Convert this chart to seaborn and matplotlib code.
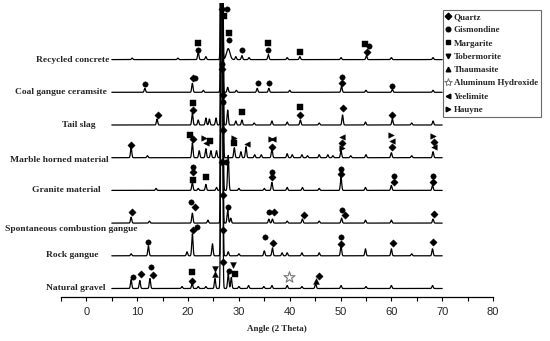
import numpy as np
import pandas as pd
import matplotlib
matplotlib.use("Agg")
import matplotlib.pyplot as plt
import seaborn as sns
from matplotlib.lines import Line2D

# ---------------- data ----------------
samples = ["Natural gravel", "Rock gangue", "Spontaneous combustion gangue",
           "Granite material", "Marble horned material", "Tail slag",
           "Coal gangue ceramsite", "Recycled concrete"]

# peak lists: (2theta, intensity above baseline[, fwhm])
peaks_natural = [(8.8, 9), (10.5, 8), (12.5, 10), (18.8, 2), (20.8, 5), (22.0, 2), (23.5, 2),
                 (25.3, 10), (26.62, 900), (27.9, 15), (28.5, 11), (30.0, 2), (31.9, 3),
                 (34.9, 2), (36.5, 3), (39.5, 3), (42.4, 2), (45.1, 5), (50.1, 3), (55.0, 2),
                 (60.0, 3), (68.1, 3)]
peaks_rock = [(8.8, 2), (12.2, 10), (19.8, 4), (20.85, 22), (24.8, 12), (26.66, 900),
              (27.9, 4), (30.0, 2), (35.0, 5), (36.6, 8), (38.5, 3), (39.5, 3), (42.4, 3),
              (45.8, 3), (50.1, 10), (54.9, 7), (60.0, 7), (64.0, 2), (68.1, 7)]
peaks_spont = [(8.8, 6), (12.4, 2), (20.85, 10), (23.9, 3), (26.64, 900), (27.8, 13),
               (28.4, 5), (35.9, 4), (36.6, 4), (39.5, 2), (42.5, 4), (45.8, 2), (50.2, 5),
               (54.9, 3), (60.0, 3), (68.2, 4)]
peaks_granite = [(13.7, 2), (20.85, 8), (22.0, 2), (23.5, 6), (25.6, 3), (26.68, 900),
                 (27.9, 35), (30.0, 2), (35.0, 2), (36.5, 8), (39.5, 3), (42.5, 3), (45.8, 2),
                 (50.1, 13), (54.9, 3), (60.0, 5), (68.1, 5)]
peaks_marble = [(8.8, 10), (12.0, 2), (20.85, 15), (22.2, 7), (23.5, 9), (24.5, 7), (25.6, 7),
                (26.70, 900), (29.1, 10), (30.4, 6), (31.4, 11), (33.1, 3), (34.4, 3),
                (36.5, 9), (39.5, 4), (40.5, 3), (42.4, 3), (43.5, 2), (45.8, 3), (47.5, 3),
                (48.5, 2), (50.1, 7), (52.0, 2), (55.0, 3), (60.0, 5), (64.0, 2), (68.2, 6)]
peaks_tail = [(13.9, 6), (20.85, 12), (22.0, 5), (23.5, 7), (24.2, 6), (25.5, 7), (26.66, 900),
              (27.8, 15), (29.4, 4), (30.6, 5), (33.0, 2), (36.5, 4), (39.5, 3), (42.1, 5),
              (45.8, 2), (50.4, 10), (54.9, 3), (60.2, 6), (64.0, 2), (68.2, 4)]
peaks_coal = [(11.5, 4), (20.85, 9), (23.0, 2), (26.64, 900), (27.8, 5), (29.5, 2), (33.6, 4),
              (35.9, 4), (40.0, 2), (50.2, 6), (55.0, 2), (60.2, 3), (68.2, 2)]
peaks_recycled = [(9.0, 1.5), (18.0, 1.5), (22.0, 8), (23.5, 3), (26.62, 900), (27.9, 11, 0.8),
                  (29.4, 3), (30.6, 4), (32.0, 2), (35.8, 5), (39.5, 2), (42.0, 3), (50.1, 2),
                  (55.1, 4), (60.0, 2), (68.2, 2)]
peak_lists = [peaks_natural, peaks_rock, peaks_spont, peaks_granite,
              peaks_marble, peaks_tail, peaks_coal, peaks_recycled]

# phase annotations: (2theta, phase, height above baseline)
ann_natural = [(9.2, "G", 12), (10.8, "Q", 15), (12.8, "G", 22), (13.2, "Q", 14),
               (20.7, "M", 17), (20.7, "Q", 8), (25.3, "Tob", 20), (25.3, "Tha", 15),
               (26.9, "Q", 27), (28.1, "G", 18), (28.8, "Tob", 24), (29.2, "M", 15),
               (39.9, "AH", 12), (45.1, "Tha", 8), (45.7, "Q", 13)]
ann_rock = [(12.2, "G", 14), (20.9, "Q", 26), (21.7, "G", 29), (26.9, "Q", 26),
            (35.2, "G", 19), (36.7, "Q", 13), (50.0, "G", 19), (50.0, "Q", 12),
            (60.3, "Q", 13), (68.2, "Q", 14)]
ann_spont = [(8.9, "Q", 11), (20.5, "G", 21), (21.4, "Q", 16), (26.8, "Q", 28),
             (27.8, "G", 16), (35.9, "G", 11), (37.0, "Q", 11), (42.9, "Q", 8),
             (50.3, "G", 13), (50.8, "Q", 8), (68.4, "Q", 9)]
ann_granite = [(20.9, "G", 23), (20.9, "Q", 18), (20.9, "M", 10), (23.5, "M", 13),
               (26.7, "Q", 28), (27.4, "G", 28), (36.5, "G", 18), (36.5, "Q", 13),
               (50.1, "G", 21), (50.1, "Q", 16), (60.5, "G", 14), (60.5, "Q", 8),
               (68.2, "G", 14), (68.2, "Q", 8)]
ann_marble = [(8.8, "Q", 13), (20.3, "M", 23), (21.0, "Q", 19), (23.2, "Hau", 20),
              (23.6, "Yee", 15), (24.3, "M", 17), (26.8, "Q", 28), (29.0, "Hau", 20),
              (29.1, "M", 15), (31.5, "Yee", 14), (36.3, "Hau", 19), (36.8, "Yee", 19),
              (36.5, "Q", 11), (50.3, "Yee", 21), (50.3, "Q", 15), (50.3, "Hau", 10),
              (60.0, "Hau", 23), (60.2, "Yee", 17), (60.2, "Q", 11), (68.2, "Hau", 22),
              (68.3, "Q", 16), (68.3, "Yee", 11)]
ann_tail = [(14.0, "Q", 10), (21.0, "M", 22), (21.0, "Q", 15), (26.8, "Q", 30),
            (26.8, "G", 23), (30.6, "M", 13), (42.1, "M", 18), (42.1, "Q", 10),
            (50.4, "Q", 17), (60.2, "Q", 10)]
ann_coal = [(11.5, "G", 8), (20.9, "Q", 14), (21.4, "G", 14), (26.7, "G", 28),
            (26.7, "Q", 23), (33.8, "G", 9), (35.9, "G", 9), (50.2, "G", 15),
            (50.2, "Q", 9), (60.2, "G", 6)]
ann_recycled = [(22.0, "G", 10), (22.0, "M", 17), (26.6, "Q", 51), (27.6, "G", 51),
                (27.1, "M", 44), (28.0, "G", 20), (28.1, "M", 27), (30.6, "G", 10),
                (35.8, "G", 10), (35.8, "M", 17), (42.0, "M", 8), (54.9, "M", 16),
                (55.6, "G", 14), (55.2, "Q", 8)]
ann_lists = [ann_natural, ann_rock, ann_spont, ann_granite,
             ann_marble, ann_tail, ann_coal, ann_recycled]

phase_names = {"Q": "Quartz", "G": "Gismondine", "M": "Margarite", "Tob": "Tobermorite",
               "Tha": "Thaumasite", "AH": "Aluminum Hydroxide", "Yee": "Yeelimite",
               "Hau": "Hauyne"}
x_ticks = [0, 10, 20, 30, 40, 50, 60, 70, 80]
x_label = "Angle (2 Theta)"

# ---------------- layout / style ----------------
two_theta = np.arange(5.0, 70.0001, 0.02)
offset_step = 32.7
offset_base = 8.5
default_fwhm = 0.3
label_right = [3.85, 2.47, 9.96, 2.86, 4.44, 1.87, 4.04, 4.44]
label_dy = [0, 1, -6, 0, -2, 0, 0, 0]
markers = {"Q": "D", "G": "o", "M": "s", "Tob": "v", "Tha": "^", "AH": "*",
           "Yee": "<", "Hau": ">"}
msize = {"Q": 14, "G": 15, "M": 13, "Tob": 18, "Tha": 18, "AH": 70, "Yee": 16, "Hau": 16}

serif = ["Liberation Serif", "DejaVu Serif"]
sans = ["Liberation Sans", "DejaVu Sans"]

sns.set_style("white")
plt.rcParams["font.family"] = serif

# build long-form table
rows = []
for i, (name, plist) in enumerate(zip(samples, peak_lists)):
    off = offset_base + offset_step * i
    y = np.zeros_like(two_theta)
    for p in plist:
        pos, h = p[0], p[1]
        w = p[2] if len(p) > 2 else default_fwhm
        y += h * np.exp(-4 * np.log(2) * ((two_theta - pos) / w) ** 2)
    rows.append(pd.DataFrame({"two_theta": two_theta, "intensity": y + off, "sample": name}))
df = pd.concat(rows, ignore_index=True)

arows = []
for i, (name, alist) in enumerate(zip(samples, ann_lists)):
    off = offset_base + offset_step * i
    for pos, ph, h in alist:
        arows.append({"two_theta": pos, "y": off + h, "phase": ph, "sample": name})
adf = pd.DataFrame(arows)

fig = plt.figure(figsize=(5.5, 3.41), dpi=100)
ax = fig.add_axes([61 / 550, 44 / 341, (493 - 61) / 550, 294 / 341])

sns.lineplot(data=df, x="two_theta", y="intensity", hue="sample",
             palette=["black"] * len(samples), estimator=None, sort=False,
             linewidth=0.9, legend=False, ax=ax)

for ph, m in markers.items():
    sub = adf[adf["phase"] == ph]
    if sub.empty:
        continue
    if ph == "AH":
        sns.scatterplot(data=sub, x="two_theta", y="y", marker=m, s=msize[ph],
                        facecolor="white", edgecolor="#777777", linewidth=0.8,
                        legend=False, ax=ax, zorder=3)
    else:
        sns.scatterplot(data=sub, x="two_theta", y="y", marker=m, s=msize[ph],
                        color="black", edgecolor="black", linewidth=0.3,
                        legend=False, ax=ax, zorder=3)

for i, name in enumerate(samples):
    off = offset_base + offset_step * i
    ax.text(label_right[i], off + label_dy[i], name, ha="right", va="center",
            fontsize=6.8, fontweight="bold", family=serif, clip_on=False)

ax.set_xlim(-5, 80)
ax.set_ylim(0, 294)
ax.set_xticks(x_ticks)
ax.set_xticks(np.arange(-5, 80, 10), minor=True)
ax.set_yticks([])
ax.set_ylabel("")
ax.set_xlabel(x_label, fontsize=6.5, fontweight="bold", family=serif, labelpad=6)
for s in ["left", "top", "right"]:
    ax.spines[s].set_visible(False)
ax.spines["bottom"].set_color("black")
ax.spines["bottom"].set_linewidth(0.9)
ax.tick_params(axis="x", which="both", direction="out", length=3, width=0.8,
               color="black", bottom=True, pad=4)
for lab in ax.get_xticklabels():
    lab.set_fontfamily(sans)
    lab.set_fontsize(8)
ax.patch.set_alpha(0)

handles = []
for ph in ["Q", "G", "M", "Tob", "Tha", "AH", "Yee", "Hau"]:
    if ph == "AH":
        h = Line2D([], [], ls="none", marker="*", ms=6, markerfacecolor="white",
                   markeredgecolor="#777777", markeredgewidth=0.7, label=phase_names[ph])
    else:
        h = Line2D([], [], ls="none", marker=markers[ph], ms=3.3, color="black",
                   label=phase_names[ph])
    handles.append(h)
leg = fig.legend(handles=handles, loc="upper left", bbox_to_anchor=(443 / 550, 1 - 10 / 341),
                 frameon=True, fancybox=False, shadow=False, borderpad=0.3,
                 labelspacing=0.55, handlelength=0.6, handletextpad=0.3,
                 borderaxespad=0, prop={"family": serif, "weight": "bold", "size": 6.5})
leg.get_frame().set_edgecolor("#444444")
leg.get_frame().set_linewidth(0.8)

fig.savefig("out.png", dpi=100)
